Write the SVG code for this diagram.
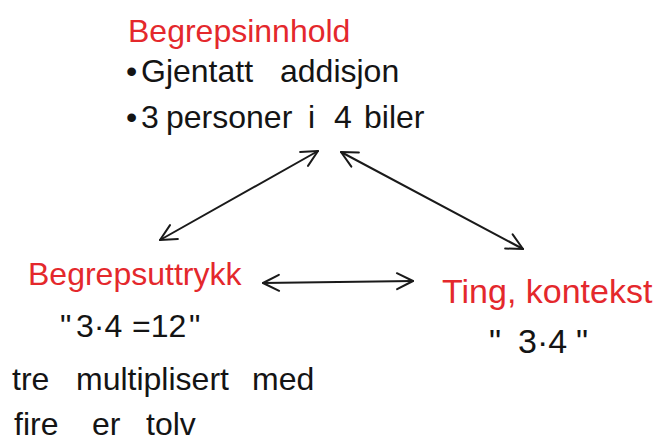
<svg xmlns="http://www.w3.org/2000/svg" width="660" height="448" viewBox="0 0 660 448">
  <style>
    .title { font-family: "Liberation Sans", "DejaVu Sans", sans-serif; fill: #e4282c; font-size: 32px; }
    .body { font-family: "Liberation Sans", "DejaVu Sans", sans-serif; fill: #141414; font-size: 32px; }
    .conn { stroke: #1a1a1a; stroke-width: 2; fill: none; stroke-linecap: round; }
  </style>
  <defs>
    <marker id="head" viewBox="0 0 20 20" refX="18" refY="10" markerWidth="20" markerHeight="20" markerUnits="userSpaceOnUse" orient="auto-start-reverse">
      <path d="M2,2 L18,10 L2,18" fill="none" stroke="#1a1a1a" stroke-width="2" stroke-linecap="round" stroke-linejoin="round"/>
    </marker>
  </defs>
  <rect width="660" height="448" fill="#ffffff"/>

  <g id="begrepsinnhold">
    <text class="title" x="128" y="42">Begrepsinnhold</text>
    <text class="body" y="82"><tspan x="126">•</tspan><tspan x="141">Gjentatt</tspan><tspan x="280">addisjon</tspan></text>
    <text class="body" y="128"><tspan x="126">•</tspan><tspan x="141">3</tspan><tspan x="166">personer</tspan><tspan x="308">i</tspan><tspan x="334">4</tspan><tspan x="364">biler</tspan></text>
  </g>

  <g id="begrepsuttrykk">
    <text class="title" x="28" y="285">Begrepsuttrykk</text>
    <text class="body" y="337"><tspan x="60">"</tspan><tspan x="76">3·4</tspan><tspan x="132">=12</tspan><tspan x="189">"</tspan></text>
    <text class="body" y="390"><tspan x="12">tre</tspan><tspan x="76">multiplisert</tspan><tspan x="252">med</tspan></text>
    <text class="body" y="435"><tspan x="14">fire</tspan><tspan x="92">er</tspan><tspan x="146">tolv</tspan></text>
  </g>

  <g id="ting-kontekst">
    <text class="title" x="442" y="303" style="font-size:34px">Ting, kontekst</text>
    <text class="body" y="353" style="font-size:34px"><tspan x="489">"</tspan><tspan x="518">3·4</tspan><tspan x="576">"</tspan></text>
  </g>

  <g id="connectors">
    <line class="conn" x1="160" y1="240" x2="318" y2="151" marker-start="url(#head)" marker-end="url(#head)"/>
    <line class="conn" x1="341" y1="152" x2="523" y2="249" marker-start="url(#head)" marker-end="url(#head)"/>
    <line class="conn" x1="263" y1="283" x2="413" y2="281" marker-start="url(#head)" marker-end="url(#head)"/>
  </g>
</svg>
